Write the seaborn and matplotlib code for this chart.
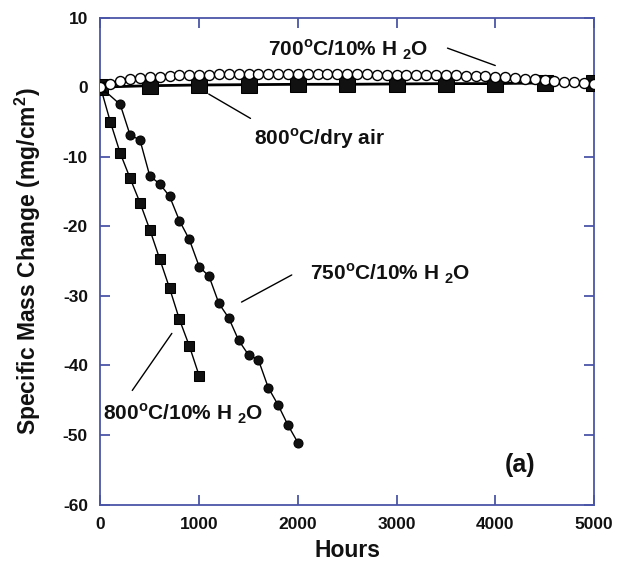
import matplotlib
matplotlib.use("Agg")
import matplotlib.pyplot as plt
import seaborn as sns
import pandas as pd

# ---- data ----
hours_700 = [0, 100, 200, 300, 400, 500, 600, 700, 800, 900, 1000,
             1100, 1200, 1300, 1400, 1500, 1600, 1700, 1800, 1900, 2000,
             2100, 2200, 2300, 2400, 2500, 2600, 2700, 2800, 2900, 3000,
             3100, 3200, 3300, 3400, 3500, 3600, 3700, 3800, 3900, 4000,
             4100, 4200, 4300, 4400, 4500, 4600, 4700, 4800, 4900, 5000]
mass_700 = [0.0, 0.5, 0.9, 1.1, 1.3, 1.4, 1.5, 1.6, 1.7, 1.7, 1.8,
            1.8, 1.9, 1.9, 1.9, 1.9, 1.9, 1.9, 1.9, 1.9, 1.9,
            1.9, 1.9, 1.9, 1.9, 1.9, 1.9, 1.9, 1.8, 1.8, 1.8,
            1.8, 1.8, 1.8, 1.7, 1.7, 1.7, 1.6, 1.6, 1.6, 1.5,
            1.4, 1.3, 1.2, 1.1, 1.0, 0.9, 0.8, 0.7, 0.6, 0.5]

hours_750 = [0, 200, 300, 400, 500, 600, 700, 800, 900, 1000, 1100,
             1200, 1300, 1400, 1500, 1600, 1700, 1800, 1900, 2000]
mass_750 = [0.0, -2.5, -6.9, -7.6, -12.8, -13.9, -15.7, -19.2, -21.9, -25.8,
            -27.2, -31.1, -33.2, -36.4, -38.5, -39.2, -43.2, -45.7, -48.6, -51.1]

hours_800w = [0, 100, 200, 300, 400, 500, 600, 700, 800, 900, 1000]
mass_800w = [0.0, -5.0, -9.5, -13.1, -16.6, -20.5, -24.7, -28.9, -33.4, -37.2, -41.5]

hours_800d = [0, 500, 1000, 1500, 2000, 2500, 3000, 3500, 4000, 4500, 5000]
mass_800d = [0.0, 0.2, 0.3, 0.35, 0.4, 0.4, 0.45, 0.5, 0.5, 0.6, 0.6]

x_ticks = [0, 1000, 2000, 3000, 4000, 5000]
y_ticks = [10, 0, -10, -20, -30, -40, -50, -60]

# ---- style ----
sns.set_theme(style="ticks")
plt.rcParams["font.family"] = ["Liberation Sans", "DejaVu Sans"]
plt.rcParams["font.weight"] = "bold"
plt.rcParams["mathtext.fontset"] = "custom"
plt.rcParams["mathtext.rm"] = "Liberation Sans:bold"
plt.rcParams["mathtext.bf"] = "Liberation Sans:bold"
plt.rcParams["axes.unicode_minus"] = False

spine_col = "#4b55a8"

fig = plt.figure(figsize=(6.18, 5.65), dpi=100)
ax = fig.add_axes([0.1626, 0.107, 0.7985, 0.862])

d800d = pd.DataFrame({"h": hours_800d, "m": mass_800d})
d800w = pd.DataFrame({"h": hours_800w, "m": mass_800w})
d750 = pd.DataFrame({"h": hours_750, "m": mass_750})
d700 = pd.DataFrame({"h": hours_700, "m": mass_700})

sns.lineplot(data=d800d, x="h", y="m", ax=ax, color="black", lw=2.0,
             marker="s", markersize=11, markeredgecolor="black",
             markerfacecolor="#111111", estimator=None, sort=False, zorder=3)
sns.lineplot(data=d700, x="h", y="m", ax=ax, color="black", lw=0.8,
             marker="o", markersize=7.2, markerfacecolor="white",
             markeredgecolor="black", markeredgewidth=1.0,
             estimator=None, sort=False, zorder=4)
sns.lineplot(data=d800w, x="h", y="m", ax=ax, color="black", lw=1.0,
             marker="s", markersize=7.8, markerfacecolor="#111111",
             markeredgecolor="black", estimator=None, sort=False, zorder=3)
sns.lineplot(data=d750, x="h", y="m", ax=ax, color="black", lw=1.0,
             marker="o", markersize=6.5, markerfacecolor="#111111",
             markeredgecolor="black", estimator=None, sort=False, zorder=3)

ax.set_xlim(0, 5000)
ax.set_ylim(-60, 10)
ax.set_xticks(x_ticks)
ax.set_yticks(y_ticks)
ax.set_xticklabels([str(t) for t in x_ticks])
ax.set_yticklabels([str(t) for t in y_ticks])

for s in ax.spines.values():
    s.set_visible(True)
    s.set_color(spine_col)
    s.set_linewidth(1.3)
ax.tick_params(direction="in", length=7, width=1.3, color=spine_col,
               top=True, right=True, labelsize=12.5, pad=9, labelcolor="#111111")
for lab in ax.get_xticklabels() + ax.get_yticklabels():
    lab.set_fontweight("bold")

ax.set_xlabel("Hours", fontsize=16.5, fontweight="bold", labelpad=5, color="#111111")
ax.set_ylabel(r"Specific Mass Change (mg/cm$^{\mathbf{2}}$)", fontsize=16.5,
              fontweight="bold", labelpad=14, color="#111111")

# ---- annotations ----
fs = 15
ax.text(2507, 5.3, r"700$^{\mathbf{o}}$C/10% H $_{\mathbf{2}}$O", fontsize=fs,
        fontweight="bold", ha="center", va="center", color="#111111")
ax.plot([3516, 4000], [5.6, 3.1], color="black", lw=1.0)

ax.text(2223, -7.4, r"800$^{\mathbf{o}}$C/dry air", fontsize=fs,
        fontweight="bold", ha="center", va="center", color="#111111")
ax.plot([1097, 1520], [-1.0, -4.5], color="black", lw=1.0)

ax.text(2122, -26.8, r"750$^{\mathbf{o}}$C/10% H $_{\mathbf{2}}$O", fontsize=fs,
        fontweight="bold", ha="left", va="center", color="#111111")
ax.plot([1938, 1429], [-27.0, -30.9], color="black", lw=1.0)

ax.text(30, -47.0, r"800$^{\mathbf{o}}$C/10% H $_{\mathbf{2}}$O", fontsize=fs,
        fontweight="bold", ha="left", va="center", color="#111111")
ax.plot([723, 322], [-35.4, -43.6], color="black", lw=1.0)

ax.text(4255, -54.3, "(a)", fontsize=18, fontweight="bold", ha="center",
        va="center", color="#111111")

fig.savefig("out.png", dpi=100)
